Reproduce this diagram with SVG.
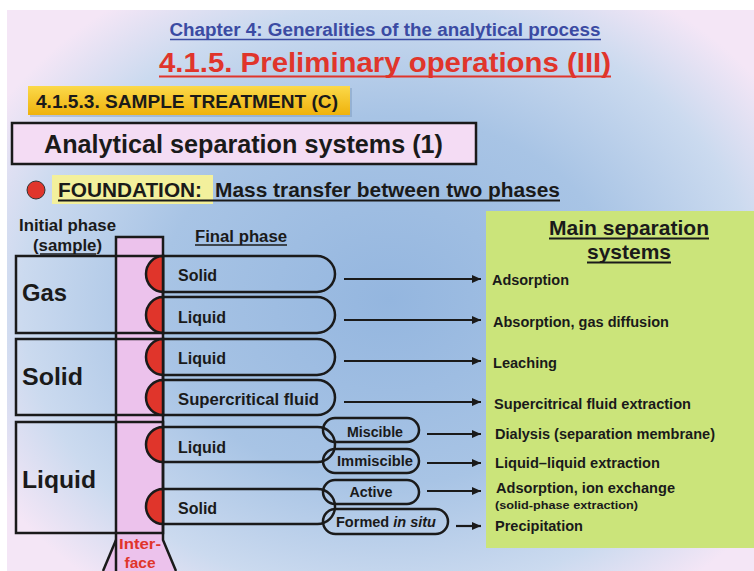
<svg xmlns="http://www.w3.org/2000/svg" width="754" height="571" viewBox="0 0 754 571">
<defs>
<radialGradient id="bg" gradientUnits="userSpaceOnUse" cx="390" cy="300" r="460" gradientTransform="translate(390 300) scale(1 0.8) translate(-390 -300)">
<stop offset="0" stop-color="#94b6df"/>
<stop offset="0.5" stop-color="#a8c4e5"/>
<stop offset="0.8" stop-color="#cbdaef"/>
<stop offset="1" stop-color="#f4e6f6"/>
</radialGradient>
<linearGradient id="yel" x1="0" y1="0" x2="0" y2="1">
<stop offset="0" stop-color="#fbd94a"/>
<stop offset="1" stop-color="#efb20c"/>
</linearGradient>
<marker id="ah" markerUnits="userSpaceOnUse" markerWidth="10" markerHeight="9" refX="9" refY="4.5" orient="auto">
<path d="M0,0.5 L9,4.5 L0,8.5 Z" fill="#1a1a1a"/>
</marker>
<style>
text{font-family:"Liberation Sans",Arial,sans-serif;font-weight:bold;fill:#1a1a1a}
.ln{fill:none;stroke:#1a1a1a;stroke-width:2.5}
.red{fill:#e0352b;stroke:#1a1a1a;stroke-width:2.5}
.cap{font-size:16px}
.sub{font-size:14px}
.res{font-size:14.5px}
.big{font-size:24px}
.arr{stroke:#1a1a1a;stroke-width:2.2;marker-end:url(#ah)}
</style>
</defs>
<rect x="0" y="0" width="754" height="571" fill="#ffffff"/>
<rect x="7" y="10" width="747" height="561" fill="url(#bg)"/>

<g id="header">
<text x="385" y="36" text-anchor="middle" font-size="18" style="fill:#3b4ba3" textLength="431" lengthAdjust="spacingAndGlyphs">Chapter 4: Generalities of the analytical process</text>
<line x1="170" y1="39.5" x2="601" y2="39.5" stroke="#3b4ba3" stroke-width="1.5"/>
<text x="385" y="72" text-anchor="middle" font-size="28" style="fill:#e0352b" textLength="452" lengthAdjust="spacingAndGlyphs">4.1.5. Preliminary operations (III)</text>
<line x1="159" y1="76.5" x2="611" y2="76.5" stroke="#e0352b" stroke-width="2"/>
</g>

<g id="section-label">
<rect x="30" y="88" width="322" height="29" fill="#6a8ab0" opacity="0.35"/>
<rect x="28" y="86" width="322" height="29" fill="url(#yel)"/>
<text x="36" y="108" font-size="18" textLength="302" lengthAdjust="spacingAndGlyphs">4.1.5.3. SAMPLE TREATMENT  (C)</text>
</g>

<g id="title-box">
<rect x="12" y="123" width="464" height="41" fill="#f4dcf4" stroke="#1a1a1a" stroke-width="2.5"/>
<text x="44" y="153" font-size="25" textLength="399" lengthAdjust="spacingAndGlyphs">Analytical separation systems (1)</text>
</g>

<g id="foundation">
<circle cx="36" cy="190" r="9" fill="#e0352b" stroke="#333" stroke-width="1"/>
<rect x="52" y="175" width="161" height="29" fill="#f3f09c"/>
<text x="58" y="197" font-size="20" textLength="144" lengthAdjust="spacingAndGlyphs">FOUNDATION:</text>
<text x="215" y="197" font-size="20" textLength="345" lengthAdjust="spacingAndGlyphs">Mass transfer between two phases</text>
<line x1="58" y1="200.5" x2="560" y2="200.5" stroke="#1a1a1a" stroke-width="1.8"/>
</g>

<g id="headings">
<text x="19" y="231" font-size="16" textLength="97" lengthAdjust="spacingAndGlyphs">Initial phase</text>
<text x="33" y="251" font-size="16" textLength="69" lengthAdjust="spacingAndGlyphs">(sample)</text>
<line x1="40" y1="254" x2="96" y2="254" stroke="#1a1a1a" stroke-width="1.5"/>
<text x="195" y="242" font-size="16" textLength="92" lengthAdjust="spacingAndGlyphs">Final phase</text>
<line x1="195" y1="245" x2="287" y2="245" stroke="#1a1a1a" stroke-width="1.5"/>
</g>

<g id="results-panel">
<rect x="486" y="211" width="268" height="337" fill="#cbe47a"/>
<text x="629" y="235" text-anchor="middle" font-size="21" textLength="160" lengthAdjust="spacingAndGlyphs">Main separation</text>
<line x1="549" y1="238.5" x2="709" y2="238.5" stroke="#1a1a1a" stroke-width="1.8"/>
<text x="629" y="259" text-anchor="middle" font-size="21" textLength="84" lengthAdjust="spacingAndGlyphs">systems</text>
<line x1="587" y1="262.5" x2="671" y2="262.5" stroke="#1a1a1a" stroke-width="1.8"/>
</g>

<g id="interface">
<path d="M116,237 H163 V540 L176,571 H103 L116,540 Z" fill="#ecc2ec"/>
<path d="M116,571 L116,237 H163 V540 L176,571" class="ln" fill="none"/>
<path d="M116,540 L103,571" class="ln"/>
<text x="140" y="549" text-anchor="middle" font-size="15" style="fill:#e0352b" textLength="42" lengthAdjust="spacingAndGlyphs">Inter-</text>
<text x="140" y="568" text-anchor="middle" font-size="15" style="fill:#e0352b" textLength="31" lengthAdjust="spacingAndGlyphs">face</text>
</g>

<g id="initial-gas">
<rect x="16" y="256" width="147" height="77" class="ln"/>
<text x="22" y="301" class="big" textLength="45" lengthAdjust="spacingAndGlyphs">Gas</text>
</g>
<g id="initial-solid">
<rect x="16" y="339" width="147" height="76" class="ln"/>
<text x="22" y="385" class="big" textLength="61" lengthAdjust="spacingAndGlyphs">Solid</text>
</g>
<g id="initial-liquid">
<rect x="16" y="422" width="147" height="111" class="ln"/>
<text x="22" y="488" class="big" textLength="74" lengthAdjust="spacingAndGlyphs">Liquid</text>
</g>

<g id="final-gas-solid">
<path d="M163,256 H317 A18,18 0 0 1 317,292 H163" class="ln"/>
<path d="M163,256 A17,18 0 0 0 163,292 Z" class="red"/>
<text x="178" y="281" class="cap">Solid</text>
</g>
<g id="final-gas-liquid">
<path d="M163,297 H317 A18,18 0 0 1 317,333 H163" class="ln"/>
<path d="M163,297 A17,18 0 0 0 163,333 Z" class="red"/>
<text x="178" y="323" class="cap">Liquid</text>
</g>
<g id="final-solid-liquid">
<path d="M163,339 H317 A18,18 0 0 1 317,375 H163" class="ln"/>
<path d="M163,339 A17,18 0 0 0 163,375 Z" class="red"/>
<text x="178" y="364" class="cap">Liquid</text>
</g>
<g id="final-solid-scf">
<path d="M163,380 H317.5 A17.5,17.5 0 0 1 317.5,415 H163" class="ln"/>
<path d="M163,380 A17,17.5 0 0 0 163,415 Z" class="red"/>
<text x="178" y="405" class="cap" textLength="141" lengthAdjust="spacingAndGlyphs">Supercritical fluid</text>
</g>
<g id="final-liquid-liquid">
<path d="M163,427 H317.5 A17.5,17.5 0 0 1 317.5,462 H163" class="ln"/>
<path d="M163,427 A17,17.5 0 0 0 163,462 Z" class="red"/>
<text x="178" y="453" class="cap">Liquid</text>
</g>
<g id="final-liquid-solid">
<path d="M163,489 H317.5 A17.5,17.5 0 0 1 317.5,524 H163" class="ln"/>
<path d="M163,489 A17,17.5 0 0 0 163,524 Z" class="red"/>
<text x="178" y="514" class="cap">Solid</text>
</g>

<g id="sub-miscible">
<rect x="323" y="418" width="96" height="24" rx="12" class="ln"/>
<text x="375" y="437" text-anchor="middle" class="sub" textLength="56" lengthAdjust="spacingAndGlyphs">Miscible</text>
</g>
<g id="sub-immiscible">
<rect x="323" y="449" width="96" height="24" rx="12" class="ln"/>
<text x="375" y="466" text-anchor="middle" class="sub" textLength="76" lengthAdjust="spacingAndGlyphs">Immiscible</text>
</g>
<g id="sub-active">
<rect x="323" y="480" width="96" height="24" rx="12" class="ln"/>
<text x="371" y="497" text-anchor="middle" class="sub" textLength="43" lengthAdjust="spacingAndGlyphs">Active</text>
</g>
<g id="sub-formed">
<rect x="323" y="509" width="125" height="25" rx="12.5" class="ln"/>
<text x="336" y="527" class="sub" textLength="100" lengthAdjust="spacingAndGlyphs">Formed <tspan font-style="italic">in situ</tspan></text>
</g>

<g id="connectors">
<line x1="344" y1="279" x2="481" y2="279" class="arr"/>
<line x1="344" y1="320" x2="481" y2="320" class="arr"/>
<line x1="344" y1="361" x2="481" y2="361" class="arr"/>
<line x1="344" y1="402" x2="481" y2="402" class="arr"/>
<line x1="427" y1="434" x2="481" y2="434" class="arr"/>
<line x1="427" y1="463" x2="481" y2="463" class="arr"/>
<line x1="427" y1="491" x2="481" y2="491" class="arr"/>
<line x1="456" y1="526" x2="481" y2="526" class="arr"/>
</g>

<g id="results">
<text x="492" y="285" class="res" textLength="77" lengthAdjust="spacingAndGlyphs">Adsorption</text>
<text x="493" y="327" class="res" textLength="176" lengthAdjust="spacingAndGlyphs">Absorption, gas diffusion</text>
<text x="493" y="368" class="res" textLength="64" lengthAdjust="spacingAndGlyphs">Leaching</text>
<text x="494" y="409" class="res" textLength="197" lengthAdjust="spacingAndGlyphs">Supercitrical fluid extraction</text>
<text x="495" y="439" font-size="15" textLength="220" lengthAdjust="spacingAndGlyphs">Dialysis (separation membrane)</text>
<text x="495" y="468" class="res" textLength="165" lengthAdjust="spacingAndGlyphs">Liquid–liquid extraction</text>
<text x="496" y="493" class="res" textLength="179" lengthAdjust="spacingAndGlyphs">Adsorption, ion exchange</text>
<text x="495" y="509" font-size="11.5" textLength="143" lengthAdjust="spacingAndGlyphs">(solid-phase extraction)</text>
<text x="495" y="531" class="res" textLength="88" lengthAdjust="spacingAndGlyphs">Precipitation</text>
</g>
</svg>
